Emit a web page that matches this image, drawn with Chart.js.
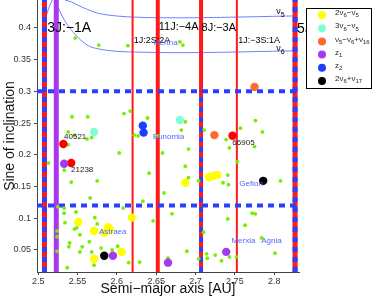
<!DOCTYPE html>
<html>
<head>
<meta charset="utf-8">
<script src="https://cdn.jsdelivr.net/npm/chart.js@4"></script>
<style>
  html, body { margin: 0; padding: 0; background: #fff; }
</style>
</head>
<body>
<canvas id="chart" width="374" height="300"></canvas>
<script>
// background asteroids (small green dots)
const bgA = [2.547, 2.577, 2.614, 2.680, 2.684, 2.543, 2.563, 2.609, 2.617, 2.639, 2.687, 2.538, 2.546, 2.562, 2.568,
  2.622, 2.627, 2.682, 2.538, 2.603, 2.691, 2.739, 2.743, 2.775, 2.776, 2.785, 2.757, 2.711, 2.652, 2.513, 2.533,
  2.542, 2.575, 2.641, 2.658, 2.687, 2.691, 2.566, 2.633, 2.660, 2.608, 2.525, 2.533, 2.533, 2.548, 2.534, 2.546,
  2.549, 2.572, 2.575, 2.646, 2.670, 2.524, 2.524, 2.540, 2.539, 2.553, 2.565, 2.556, 2.524, 2.553, 2.568, 2.594,
  2.580, 2.601, 2.629, 2.615, 2.571, 2.537, 2.665, 2.689, 2.704, 2.741, 2.735, 2.742, 2.753, 2.808, 2.772, 2.776,
  2.741, 2.763, 2.710, 2.784, 2.801, 2.714, 2.715, 2.725, 2.704, 2.733, 2.743, 2.752];
const bgS = [0.384, 0.373, 0.372, 0.378, 0.373, 0.260, 0.260, 0.265, 0.269, 0.258, 0.252, 0.236, 0.231, 0.225, 0.227,
  0.231, 0.230, 0.239, 0.216, 0.203, 0.209, 0.224, 0.211, 0.213, 0.254, 0.236, 0.242, 0.239, 0.230, 0.187, 0.176,
  0.157, 0.159, 0.171, 0.203, 0.182, 0.164, 0.132, 0.127, 0.140, 0.116, 0.118, 0.116, 0.108, 0.110, 0.093, 0.083,
  0.085, 0.101, 0.091, 0.096, 0.107, 0.080, 0.071, 0.061, 0.055, 0.074, 0.063, 0.055, 0.048, 0.047, 0.047, 0.050,
  0.053, 0.056, 0.031, 0.030, 0.026, 0.022, 0.037, 0.048, 0.159, 0.168, 0.156, 0.153, 0.189, 0.159, 0.108, 0.107,
  0.099, 0.089, 0.078, 0.069, 0.045, 0.044, 0.037, 0.042, 0.036, 0.033, 0.039, 0.039];

// resonant groups
const r2v6v5A = [2.551, 2.571, 2.589, 2.591, 2.584, 2.619, 2.687, 2.571, 2.606, 2.717, 2.723, 2.728];
const r2v6v5S = [0.094, 0.080, 0.086, 0.082, 0.077, 0.101, 0.156, 0.036, 0.047, 0.165, 0.167, 0.168];
const r3v6v5A = [2.571, 2.680];
const r3v6v5S = [0.236, 0.255];
const rv5v6v16A = [2.775, 2.724];
const rv5v6v16S = [0.307, 0.231];
const z1A = [2.533, 2.595, 2.665, 2.739];
const z1S = [0.186, 0.041, 0.030, 0.047];
const z2A = [2.633, 2.634];
const z2S = [0.246, 0.235];
const r2v6v17A = [2.584, 2.786];
const r2v6v17S = [0.041, 0.159];
const namedA = [2.532, 2.542, 2.747];
const namedS = [0.217, 0.187, 0.230];

// mean-motion / three-body resonances (semi-major axis)
const resA = [2.508, 2.523, 2.620, 2.652, 2.707, 2.7525, 2.8265];

// secular resonance curves
const nu5A = [2.534, 2.542, 2.557, 2.580, 2.622, 2.694, 2.830];
const nu5S = [0.444, 0.441, 0.432, 0.422, 0.417, 0.416, 0.419];
const nu6A = [2.5215, 2.527, 2.533, 2.542, 2.554, 2.567, 2.592, 2.622, 2.694, 2.830];
const nu6S = [0.444, 0.428, 0.413, 0.397, 0.381, 0.370, 0.364, 0.362, 0.361, 0.364];
const nu6bA = [2.506, 2.509, 2.511, 2.515, 2.518];
const nu6bS = [0.391, 0.406, 0.422, 0.436, 0.444];

// dashed family boundaries in sin i
const cutS = [0.3, 0.12];

const xTicks = [2.5, 2.55, 2.6, 2.65, 2.7, 2.75, 2.8];
const yTicks = [0.05, 0.1, 0.15, 0.2, 0.25, 0.3, 0.35, 0.4];

const legendLabels = ["2ν{6}−ν{5}", "3ν{6}−ν{5}", "ν{5}−ν{6}+ν{16}", "z{1}", "z{2}", "2ν{6}+ν{17}"];

const X_MIN = 2.4985, X_MAX = 2.8315, Y_MIN = 0.0153, Y_MAX = 0.444;

const notes = [
  { t: "3J:−1A", a: 2.5114, s: 0.400, size: 14, color: "#000" },
  { t: "11J:−4A", a: 2.6532, s: 0.4016, size: 11, color: "#000" },
  { t: "8J:−3A", a: 2.7076, s: 0.400, size: 11, color: "#000" },
  { t: "5J:−2A", a: 2.8291, s: 0.3984, size: 14, color: "#000" },
  { t: "1J:2S:2A", a: 2.6215, s: 0.3795, size: 9, color: "#000" },
  { t: "1J:−3S:1A", a: 2.7544, s: 0.3795, size: 9, color: "#000" },
  { t: "Hertha", a: 2.6468, s: 0.3765, size: 8, color: "#5566ff" },
  { t: "Eunomia", a: 2.6456, s: 0.2282, size: 8, color: "#5566ff" },
  { t: "Astraea", a: 2.5772, s: 0.0784, size: 8, color: "#5566ff" },
  { t: "Gefion", a: 2.7557, s: 0.1541, size: 8, color: "#5566ff" },
  { t: "Merxia", a: 2.7456, s: 0.0642, size: 8, color: "#5566ff" },
  { t: "Agnia", a: 2.7835, s: 0.0642, size: 8, color: "#5566ff" },
  { t: "40521", a: 2.5329, s: 0.2282, size: 8, color: "#222" },
  { t: "21238", a: 2.5418, s: 0.1762, size: 8, color: "#222" },
  { t: "66905", a: 2.7468, s: 0.2188, size: 8, color: "#222" },
  { t: "ν{5}", a: 2.8025, s: 0.4252, size: 9, color: "#000" },
  { t: "ν{6}", a: 2.8025, s: 0.3668, size: 9, color: "#000" },
];

const RED = "#ff1a1a", BLUE = "#2a40ff";

function pts(a, s) {
  return a.map((v, i) => ({ x: v, y: s[i] }));
}

// lower order is drawn on top
function vline(a, from, to, color, width, dash, order) {
  return {
    type: "line", data: [{ x: a, y: from }, { x: a, y: to }],
    borderColor: color, borderWidth: width, borderDash: dash || [],
    pointRadius: 0, order: order || 10, label: "",
  };
}

function hline(s, color, width, dash) {
  return {
    type: "line", data: [{ x: X_MIN, y: s }, { x: X_MAX, y: s }],
    borderColor: color, borderWidth: width, borderDash: dash || [],
    pointRadius: 0, order: 9, label: "",
  };
}

function curve(a, s) {
  return {
    type: "line", data: pts(a, s), borderColor: "#7080ff", borderWidth: 1,
    pointRadius: 0, tension: 0.3, order: 11, label: "",
  };
}

function dots(a, s, color, r, order, label) {
  return {
    type: "scatter", data: pts(a, s), backgroundColor: color, borderWidth: 0,
    pointRadius: r, pointHoverRadius: r, order, label: label || "",
  };
}

// draws text with {subscript} parts
function subText(ctx, str, x, y, size) {
  const parts = str.split(/(\{[^}]*\})/).filter(p => p);
  let cx = x;
  parts.forEach(p => {
    if (p[0] === "{") {
      ctx.font = Math.round(size * 0.75) + "px 'Liberation Sans', Arial, sans-serif";
      const t = p.slice(1, -1);
      ctx.fillText(t, cx, y + size * 0.35);
      cx += ctx.measureText(t).width;
    } else {
      ctx.font = size + "px 'Liberation Sans', Arial, sans-serif";
      ctx.fillText(p, cx, y);
      cx += ctx.measureText(p).width;
    }
  });
}

const notesPlugin = {
  id: "notes",
  afterDatasetsDraw(chart) {
    const ctx = chart.ctx;
    const xs = chart.scales.x, ys = chart.scales.y;
    ctx.save();
    ctx.textAlign = "left";
    ctx.textBaseline = "middle";
    notes.forEach(n => {
      ctx.fillStyle = n.color;
      subText(ctx, n.t, xs.getPixelForValue(n.a), ys.getPixelForValue(n.s), n.size);
    });
    ctx.restore();
  },
};

const legendPlugin = {
  id: "boxLegend",
  afterDraw(chart) {
    const ctx = chart.ctx;
    const colors = ["#ffff00", "#7fffd4", "#ff6a30", "#a838f0", "#1e3cff", "#000000"];
    ctx.save();
    ctx.fillStyle = "#fff";
    ctx.fillRect(306, 8, 65, 80);
    ctx.strokeStyle = "#000";
    ctx.lineWidth = 1;
    ctx.strokeRect(306.5, 8.5, 65, 80);
    ctx.textAlign = "left";
    ctx.textBaseline = "middle";
    legendLabels.forEach((lab, i) => {
      const y = 15 + i * 13.2;
      ctx.fillStyle = colors[i];
      ctx.beginPath();
      ctx.arc(322, y, 4, 0, Math.PI * 2);
      ctx.fill();
      ctx.fillStyle = "#222";
      subText(ctx, lab, 335, y - 2, 8);
    });
    ctx.restore();
  },
};

const datasets = [
  curve(nu5A, nu5S),
  curve(nu6A, nu6S),
  curve(nu6bA, nu6bS),
  hline(cutS[0], BLUE, 4, [6, 5]),
  hline(cutS[1], BLUE, 4, [6, 5]),
  vline(resA[0], Y_MIN, Y_MAX, RED, 5),
  vline(resA[0], Y_MIN, Y_MAX, BLUE, 5, [5, 5], 8),
  vline(resA[1], Y_MIN, Y_MAX, "#a838f0", 5),
  vline(resA[2], Y_MIN, Y_MAX, RED, 2),
  vline(resA[3], Y_MIN, Y_MAX, RED, 4),
  vline(resA[4], Y_MIN, Y_MAX, RED, 4),
  vline(resA[4], Y_MIN, cutS[0], BLUE, 4, [5, 5], 8),
  vline(resA[5], Y_MIN, Y_MAX, RED, 2),
  vline(resA[6], Y_MIN, Y_MAX, RED, 5),
  vline(resA[6], Y_MIN, Y_MAX, BLUE, 5, [5, 5], 8),
  dots(bgA, bgS, "#76ee00", 1.9, 5),
  dots(r2v6v5A, r2v6v5S, "#ffff00", 4.2, 1, legendLabels[0]),
  dots(r3v6v5A, r3v6v5S, "#7fffd4", 4.2, 1, legendLabels[1]),
  dots(rv5v6v16A, rv5v6v16S, "#ff6a30", 4.2, 1, legendLabels[2]),
  dots(z1A, z1S, "#a838f0", 4.2, 1, legendLabels[3]),
  dots(z2A, z2S, "#1e3cff", 4.2, 1, legendLabels[4]),
  dots(r2v6v17A, r2v6v17S, "#000000", 4.2, 1, legendLabels[5]),
  dots(namedA, namedS, "#ff0000", 4.2, 1),
];

new Chart(document.getElementById("chart"), {
  type: "scatter",
  data: { datasets },
  options: {
    responsive: false,
    animation: false,
    layout: { autoPadding: false, padding: { left: 0, right: 75, top: 0, bottom: 0 } },
    plugins: { legend: { display: false }, tooltip: { enabled: false } },
    scales: {
      x: {
        type: "linear", min: X_MIN, max: X_MAX,
        afterBuildTicks: s => { s.ticks = xTicks.map(v => ({ value: v })); },
        afterFit: s => { s.height = 28; s.paddingLeft = 0; s.paddingRight = 0; },
        grid: { drawOnChartArea: false, tickLength: 3, color: "#444" },
        border: { color: "#444", width: 1 },
        ticks: { padding: 1, color: "#333", font: { size: 9, family: "'Liberation Sans', Arial" },
          callback: v => String(v), maxRotation: 0 },
        title: { display: true, text: "Semi−major axis [AU]", color: "#111",
          font: { size: 14, family: "'Liberation Sans', Arial" }, padding: { top: 0, bottom: 2 } },
      },
      y: {
        type: "linear", min: Y_MIN, max: Y_MAX,
        afterBuildTicks: s => { s.ticks = yTicks.map(v => ({ value: v })); },
        afterFit: s => { s.width = 37; s.paddingTop = 0; s.paddingBottom = 0; },
        grid: { drawOnChartArea: false, tickLength: 3, color: "#444" },
        border: { color: "#444", width: 1 },
        ticks: { padding: 3, color: "#333", font: { size: 9, family: "'Liberation Sans', Arial" },
          callback: v => String(v) },
        title: { display: true, text: "Sine of inclination", color: "#111",
          font: { size: 14, family: "'Liberation Sans', Arial" }, padding: { top: 2, bottom: 0 } },
      },
    },
  },
  plugins: [notesPlugin, legendPlugin],
});
</script>
</body>
</html>
